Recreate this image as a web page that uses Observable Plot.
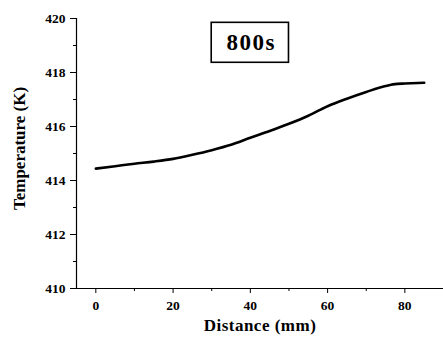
<!DOCTYPE html>
<html>
<head>
<meta charset="utf-8">
<script src="https://cdn.jsdelivr.net/npm/d3@7"></script>
<script src="https://cdn.jsdelivr.net/npm/@observablehq/plot@0.6"></script>
<style>
  html, body { margin: 0; padding: 0; background: #fff; }
</style>
</head>
<body>
<div id="chart"></div>
<script>
const distance = [0, 5, 10, 15, 20, 25, 30, 35, 40, 45, 50, 55, 60, 65, 70, 75, 78, 80, 85];
const temperature = [414.44, 414.53, 414.62, 414.70, 414.80, 414.95, 415.12, 415.32, 415.58, 415.83, 416.10, 416.40, 416.75, 417.03, 417.28, 417.50, 417.58, 417.59, 417.62];
const xTicks = [0, 20, 40, 60, 80];
const xMinorTicks = [10, 30, 50, 70, 90];
const yTicks = [410, 412, 414, 416, 418, 420];
const yMinorTicks = [411, 413, 415, 417, 419];
const annotation = [{x1: 30, x2: 50, y1: 418.36, y2: 419.84, label: "800s"}];
const xLabel = "Distance (mm)";
const yLabel = "Temperature (K)";

const data = distance.map((d, i) => ({x: d, y: temperature[i]}));
const font = "Liberation Serif, Times New Roman, serif";

const chart = Plot.plot({
  width: 443,
  height: 341,
  marginLeft: 76,
  marginRight: 0,
  marginTop: 18,
  marginBottom: 53,
  style: {fontFamily: font, fontWeight: "bold", fontSize: "13px", color: "#000", background: "#fff"},
  x: {domain: [-5, 90]},
  y: {domain: [410, 420]},
  marks: [
    Plot.ruleX([-5], {stroke: "#000", strokeWidth: 1.2}),
    Plot.ruleY([410], {stroke: "#000", strokeWidth: 1.2}),
    Plot.axisX({ticks: xTicks, tickSize: 5, tickPadding: 7, label: null, fontWeight: "bold", fontSize: 13.5, fontFamily: font}),
    Plot.axisX({ticks: xMinorTicks, tickSize: 3, text: null, label: null}),
    Plot.axisY({ticks: yTicks, tickSize: 6, tickPadding: 5, label: null, fontWeight: "bold", fontSize: 13.5, fontFamily: font}),
    Plot.axisY({ticks: yMinorTicks, tickSize: 3, text: null, label: null}),
    Plot.line(data, {x: "x", y: "y", stroke: "#000", strokeWidth: 2.6, curve: "monotone-x"}),
    Plot.rect(annotation, {x1: "x1", x2: "x2", y1: "y1", y2: "y2", fill: "#fff", stroke: "#000", strokeWidth: 1.6}),
    Plot.text(annotation, {x: d => (d.x1 + d.x2) / 2, y: d => (d.y1 + d.y2) / 2, dx: 1, text: "label", fontSize: 23, fontWeight: "bold", fontFamily: font, fill: "#000"}),
    Plot.text([xLabel], {frameAnchor: "bottom", textAnchor: "middle", dy: 42, fontSize: 17, fontWeight: "bold", fontFamily: font, fill: "#000"}),
    Plot.text([yLabel], {frameAnchor: "left", textAnchor: "middle", dx: -57, dy: -5, rotate: -90, fontSize: 17, fontWeight: "bold", fontFamily: font, fill: "#000"})
  ]
});
d3.select(chart).selectAll("text").attr("font-family", font);
d3.select(chart).selectAll("text").filter(function() { return this.textContent === annotation[0].label; }).style("letter-spacing", "1.5px");
d3.select(chart).selectAll("text").filter(function() { return this.textContent === xLabel; }).style("letter-spacing", "0.5px");
document.getElementById("chart").appendChild(chart);
</script>
</body>
</html>
